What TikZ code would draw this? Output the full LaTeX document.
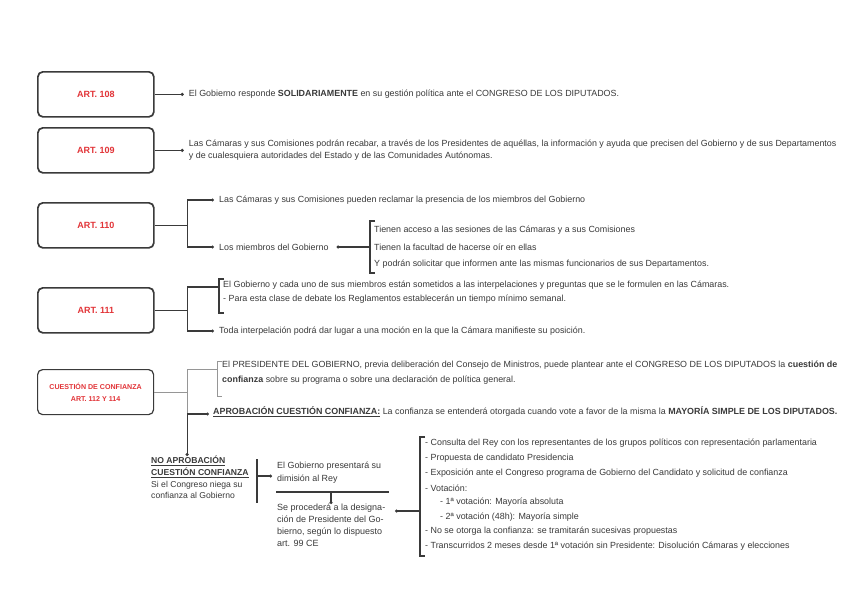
\documentclass[tikz,border=0pt]{standalone}
\usepackage{fontspec}
\setmainfont{Liberation Sans}
\usetikzlibrary{arrows.meta,positioning,calc}
\definecolor{artred}{RGB}{226,52,56}
\definecolor{inkgray}{RGB}{58,58,58}
\definecolor{linegray}{RGB}{150,150,150}

\begin{document}
\begin{tikzpicture}[
    x=1pt, y=-1pt,
    artbox/.style={rectangle, draw=inkgray, line width=1.7pt, rounded corners=5pt, minimum width=116pt, minimum height=45pt, inner sep=0pt, anchor=north west, text=artred, font=\bfseries\fontsize{9}{10}\selectfont},
    txt/.style={anchor=west, inner sep=0pt, text=inkgray, align=left, font=\fontsize{8.9}{12}\selectfont},
    blk/.style={anchor=north west, inner sep=0pt, text=inkgray, align=left, font=\fontsize{8.9}{12}\selectfont},
    link/.style={-{Circle[length=3pt]}, draw=inkgray, line width=1.15pt},
    plain/.style={draw=inkgray, line width=1.15pt},
    soft/.style={draw=linegray, line width=1pt}
]
\useasboundingbox[fill=white] (0,0) rectangle (848,600);

% articulos
\node[artbox] (a108) at (37,71) {ART. 108};
\node[artbox] (a109) at (37,127) {ART. 109};
\node[artbox] (a110) at (37,202) {ART. 110};
\node[artbox] (a111) at (37,287) {ART. 111};
\node[artbox, line width=1.2pt, align=center, font=\bfseries\fontsize{7.1}{12}\selectfont] (a112) at (37,369) {CUESTIÓN DE CONFIANZA\\ART. 112 Y 114};

% art. 108 y 109
\node[txt, right=34pt of a108] (t108) {El Gobierno responde \textbf{SOLIDARIAMENTE} en su gestión política ante el CONGRESO DE LOS DIPUTADOS.};
\node[txt, right=34pt of a109] (t109) {Las Cámaras y sus Comisiones podrán recabar, a través de los Presidentes de aquéllas, la información y ayuda que precisen del Gobierno y de sus Departamentos\\y de cualesquiera autoridades del Estado y de las Comunidades Autónomas.};
\draw[link] (a108.east) -- ([xshift=-5pt]t108.west);
\draw[link] (a109.east) -- ([xshift=-5pt]t109.west);

% art. 110
\coordinate (k110) at ($(a110.east)+(33,0)$);
\node[txt] (t110a) at (219,200) {Las Cámaras y sus Comisiones pueden reclamar la presencia de los miembros del Gobierno};
\node[txt] (t110b) at (219,247) {Los miembros del Gobierno};
\draw[plain] (a110.east) -- (k110);
\draw[link] (k110) |- ([xshift=-5pt]t110a.west);
\draw[link] (k110) |- ([xshift=-5pt]t110b.west);
\node[txt] (l110a) at (374,230) {Tienen acceso a las sesiones de las Cámaras y a sus Comisiones};
\node[txt] (l110b) at (374,247) {Tienen la facultad de hacerse oír en ellas};
\node[txt] (l110c) at (374,264) {Y podrán solicitar que informen ante las mismas funcionarios de sus Departamentos.};
\coordinate (b110) at (370,247);
\draw[plain] (375,221) -- (370,221) -- (370,273) -- (375,273);
\draw[plain, {Circle[length=3pt]}-] ([xshift=8pt]t110b.east) -- (b110);

% art. 111
\coordinate (k111) at ($(a111.east)+(33,0)$);
\coordinate (b111) at (219,287);
\node[txt] (t111a) at (223,285) {El Gobierno y cada uno de sus miembros están sometidos a las interpelaciones y preguntas que se le formulen en las Cámaras.};
\node[txt] (t111b) at (223,299) {- Para esta clase de debate los Reglamentos establecerán un tiempo mínimo semanal.};
\node[txt] (t111c) at (219,331) {Toda interpelación podrá dar lugar a una moción en la que la Cámara manifieste su posición.};
\draw[plain] (224,279) -- (219,279) -- (219,313) -- (224,313);
\draw[plain] (a111.east) -- (k111) |- (b111);
\draw[link] (k111) |- ([xshift=-5pt]t111c.west);

% cuestion de confianza
\coordinate (k112) at ($(a112.east)+(33,0)$);
\coordinate (b112) at (217,369);
\coordinate (s112) at (k112 |- 0,414);
\node[txt] (t112a) at (222,365) {El PRESIDENTE DEL GOBIERNO, previa deliberación del Consejo de Ministros, puede plantear ante el CONGRESO DE LOS DIPUTADOS la \textbf{cuestión de}};
\node[txt] (t112b) at (222,380) {\textbf{confianza} sobre su programa o sobre una declaración de política general.};
\draw[soft] (222,361) -- (217,361) -- (217,396) -- (222,396);
\draw[soft] (a112.east) -- (k112);
\draw[soft] (s112) -- (k112) |- (b112);
\node[txt] (apro) at (213,412) {\textbf{\underline{APROBACIÓN CUESTIÓN CONFIANZA:}} La confianza se entenderá otorgada cuando vote a favor de la misma la \textbf{MAYORÍA SIMPLE DE LOS DIPUTADOS.}};
\draw[link] (s112) -- ([xshift=-4pt]apro.west |- s112);

% no aprobacion
\node[blk, font=\fontsize{8.6}{11.6}\selectfont] (noap) at (151,456) {\textbf{\underline{NO APROBACIÓN}}\\\textbf{\underline{CUESTIÓN CONFIANZA}}\\Si el Congreso niega su\\confianza al Gobierno};
\draw[link] (s112) -- (s112 |- noap.north);
\coordinate (sep) at (257,476);
\draw[plain] (257,459) -- (257,503);
\node[blk, font=\fontsize{8.9}{13}\selectfont] (dimi) at (277,462) {El Gobierno presentará su\\dimisión al Rey};
\draw[link] (sep) -- ([xshift=-5pt]dimi.west |- sep);
\coordinate (rule) at (331,492);
\draw[plain] (276,492) -- (389,492);
\node[blk, font=\fontsize{9}{12}\selectfont] (desi) at (277,504) {Se procederá a la designa-\\ción de Presidente del Go-\\bierno, según lo dispuesto\\art. 99 CE};
\draw[link] (rule) -- (rule |- desi.north);

% procedimiento
\coordinate (b113) at (420,511);
\draw[plain] (425,437) -- (420,437) -- (420,556) -- (425,556);
\draw[plain, {Circle[length=3pt]}-] (395,511) -- (b113);
\node[txt] (p1) at (425,443) {- Consulta del Rey con los representantes de los grupos políticos con representación parlamentaria};
\node[txt] (p2) at (425,458) {- Propuesta de candidato Presidencia};
\node[txt] (p3) at (425,473) {- Exposición ante el Congreso programa de Gobierno del Candidato y solicitud de confianza};
\node[txt] (p4) at (425,488) {- Votación:};
\node[txt] (p5) at (440,502) {- 1ª votación: Mayoría absoluta};
\node[txt] (p6) at (440,517) {- 2ª votación (48h): Mayoría simple};
\node[txt] (p7) at (425,531) {- No se otorga la confianza: se tramitarán sucesivas propuestas};
\node[txt] (p8) at (425,546) {- Transcurridos 2 meses desde 1ª votación sin Presidente: Disolución Cámaras y elecciones};

\end{tikzpicture}
\end{document}
